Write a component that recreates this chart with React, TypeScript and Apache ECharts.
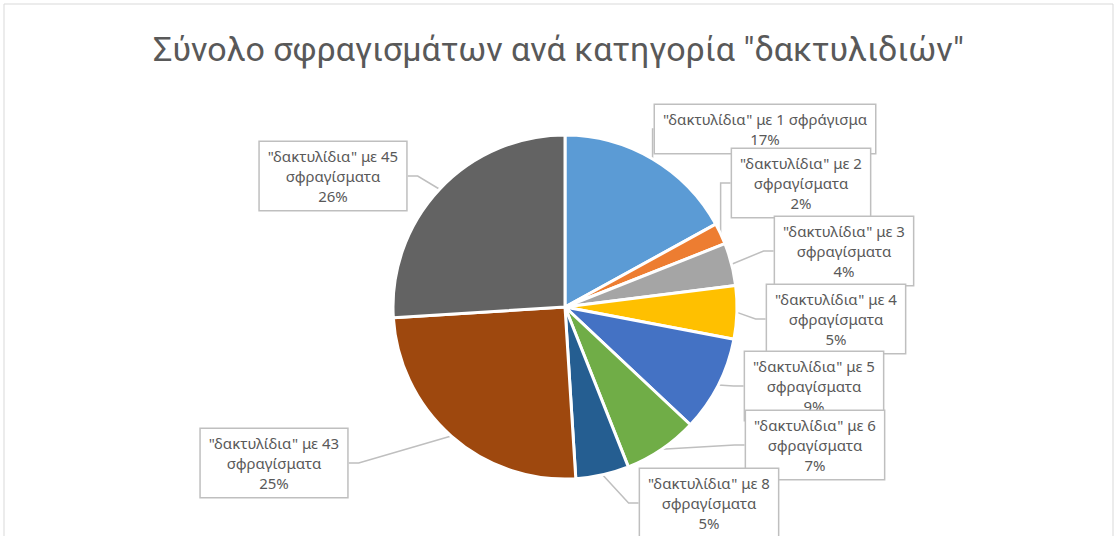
import React, { useEffect, useRef } from "react";
import * as echarts from "echarts";

const titleText = 'Σύνολο σφραγισμάτων ανά κατηγορία "δακτυλιδιών"';
const categories = [
  '"δακτυλίδια" με 1 σφράγισμα',
  '"δακτυλίδια" με 2 σφραγίσματα',
  '"δακτυλίδια" με 3 σφραγίσματα',
  '"δακτυλίδια" με 4 σφραγίσματα',
  '"δακτυλίδια" με 5 σφραγίσματα',
  '"δακτυλίδια" με 6 σφραγίσματα',
  '"δακτυλίδια" με 8 σφραγίσματα',
  '"δακτυλίδια" με 43 σφραγίσματα',
  '"δακτυλίδια" με 45 σφραγίσματα',
];
const values = [17, 2, 4, 5, 9, 7, 5, 25, 26];
const colors = [
  "#5B9BD5", "#ED7D31", "#A5A5A5", "#FFC000", "#4472C4",
  "#70AD47", "#255E91", "#9E480E", "#636363",
];
// callout box centres (placed by hand, as in the original chart)
const labelCentres: [number, number][] = [
  [765, 129],
  [801, 183],
  [844, 251],
  [836, 319],
  [814, 386],
  [815, 445],
  [709, 503],
  [274, 463],
  [333, 176],
];

export default function App() {
  const ref = useRef<HTMLDivElement>(null);
  useEffect(() => {
    if (!ref.current) return;
    const chart = echarts.init(ref.current, null, { renderer: "svg" });
    chart.setOption({
      animation: false,
      backgroundColor: "#FFFFFF",
      title: {
        text: titleText,
        left: "center",
        top: 27,
        textStyle: {
          fontFamily: "Roboto",
          fontSize: 34,
          fontWeight: "normal",
          color: "#595959",
        },
      },
      graphic: [
        {
          type: "rect",
          shape: { x: 4, y: 4, width: 1109, height: 560 },
          style: { fill: "none", stroke: "#D9D9D9", lineWidth: 1 },
          silent: true,
        },
      ],
      series: [
        {
          type: "pie",
          center: [565, 307],
          radius: 172,
          startAngle: 90,
          clockwise: true,
          avoidLabelOverlap: false,
          data: categories.map((c, i) => ({
            name: c,
            value: values[i],
            itemStyle: { color: colors[i] },
          })),
          itemStyle: { borderColor: "#FFFFFF", borderWidth: 3 },
          label: {
            show: true,
            position: "outside",
            formatter: (p: any) => {
              const n = p.name as string;
              const txt = n.indexOf("σφραγίσματα") < 0
                ? n
                : n.replace(" σφραγίσματα", "\nσφραγίσματα");
              return txt + "\n" + Math.round(p.percent) + "%";
            },
            fontFamily: "Noto Sans",
            fontSize: 15,
            lineHeight: 20,
            color: "#595959",
            align: "center",
            backgroundColor: "#FFFFFF",
            borderColor: "#BFBFBF",
            borderWidth: 1.5,
            padding: [4, 8, 4, 8],
          },
          labelLine: {
            show: true,
            length: 20,
            length2: 10,
            lineStyle: { color: "#BFBFBF", width: 1.5 },
          },
          labelLayout: (params: any) => {
            const c = labelCentres[params.dataIndex];
            return { x: c[0], y: c[1], align: "center", verticalAlign: "middle" };
          },
        },
      ],
    });
    return () => chart.dispose();
  }, []);
  return (
    <div
      ref={ref}
      style={{ position: "absolute", left: 0, top: 0, width: 1117, height: 536 }}
    />
  );
}
